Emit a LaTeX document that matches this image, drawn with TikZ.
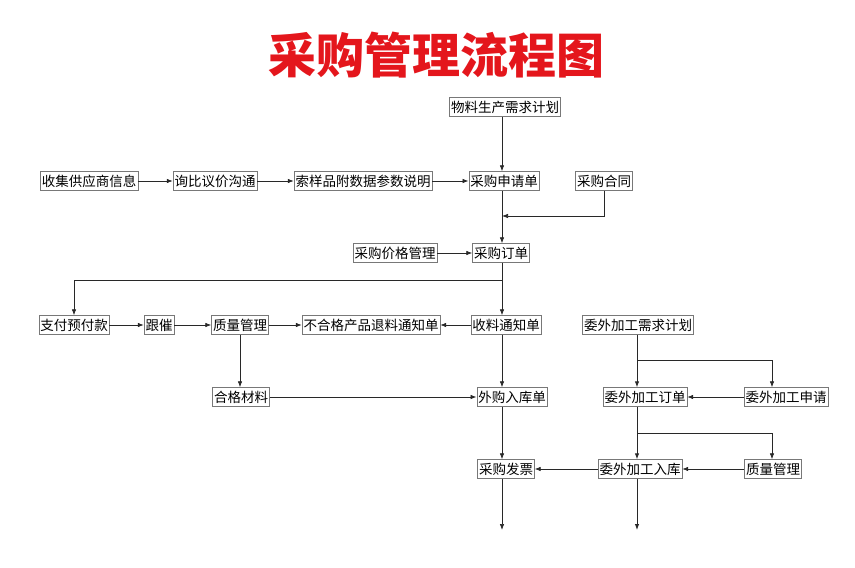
\documentclass[tikz,border=0pt]{standalone}
\usepackage{fontspec}
\setmainfont{Noto Sans CJK SC}
\usepackage{tikz}
\usetikzlibrary{positioning,arrows.meta}
\definecolor{colortitle}{RGB}{228,22,28}
\definecolor{colorline} {RGB}{40,40,40}
\definecolor{colorbox}  {RGB}{120,120,120}

\begin{document}
\begin{tikzpicture}[
    x=1pt, y=-1pt,
    font={\fontsize{13.5}{15}\selectfont},
    title/.style={text=colortitle,font={\fontsize{48}{52}\selectfont\bfseries}},
    task/.style={draw=colorbox,line width=0.4pt,fill=white,inner xsep=1.5pt,inner ysep=1pt,minimum height=19pt},
    flow/.style={-{Latex[length=6pt,width=4.5pt]},draw=colorline,line width=0.7pt},
]
    \useasboundingbox (0,0) rectangle (855,568);

    % Title
    \node[title] (heading) at (436,55) {采购管理流程图};

    % Tasks
    \node[task] (plan)      at (505,107) {物料生产需求计划};
    \node[task] (info)      at (89,181)  {收集供应商信息};
    \node[task] (inquiry)   at (215,181) {询比议价沟通};
    \node[task] (sample)    at (363,181) {索样品附数据参数说明};
    \node[task] (request)   at (504,181) {采购申请单};
    \node[task] (contract)  at (604,181) {采购合同};
    \node[task] (price)     at (395,253) {采购价格管理};
    \node[task] (order)     at (501,253) {采购订单};
    \node[task] (prepay)    at (74,325)  {支付预付款};
    \node[task] (follow)    at (159,325) {跟催};
    \node[task] (quality)   at (240,325) {质量管理};
    \node[task] (reject)    at (371,325) {不合格产品退料通知单};
    \node[task] (receipt)   at (506,325) {收料通知单};
    \node[task] (osplan)    at (638,325) {委外加工需求计划};
    \node[task] (qualified) at (241,397) {合格材料};
    \node[task] (instock)   at (512,397) {外购入库单};
    \node[task] (osorder)   at (645,397) {委外加工订单};
    \node[task] (osapply)   at (786,397) {委外加工申请};
    \node[task] (invoice)   at (506,469) {采购发票};
    \node[task] (osstock)   at (640,469) {委外加工入库};
    \node[task] (osquality) at (773,469) {质量管理};

    % Trunks, forks and free ends
    \coordinate (trunk)   at (502,0);
    \coordinate (ostrunk) at (637,0);
    \coordinate (merge)   at (502,216);
    \coordinate (split)   at (502,280);
    \coordinate (osfork1) at (637,360);
    \coordinate (osturn1) at (772,360);
    \coordinate (osfork2) at (637,433);
    \coordinate (osturn2) at (772,433);
    \coordinate (endA)    at (502,530);
    \coordinate (endB)    at (637,530);

    % Purchase flow
    \draw[flow] (info) -- (inquiry);
    \draw[flow] (inquiry) -- (sample);
    \draw[flow] (sample) -- (request);
    \draw[flow] (plan.south -| trunk) -- (request.north -| trunk);
    \draw[flow] (contract.south) |- (merge);
    \draw[flow] (request.south -| trunk) -- (order.north -| trunk);
    \draw[flow] (price) -- (order);
    \draw[flow] (order.south -| trunk) -- (receipt.north -| trunk);
    \draw[flow] (split) -| (prepay.north);

    \draw[flow] (prepay) -- (follow);
    \draw[flow] (follow) -- (quality);
    \draw[flow] (quality) -- (reject);
    \draw[flow] (receipt) -- (reject);
    \draw[flow] (quality.south) -- (quality.south |- qualified.north);
    \draw[flow] (qualified) -- (instock);
    \draw[flow] (receipt.south -| trunk) -- (instock.north -| trunk);
    \draw[flow] (instock.south -| trunk) -- (invoice.north -| trunk);
    \draw[flow] (invoice.south -| trunk) -- (endA);

    % Outsourcing flow
    \draw[flow,line width=0.9pt] (osplan.south -| ostrunk) -- (osorder.north -| ostrunk);
    \draw[flow] (osfork1) -- (osturn1) -- (osturn1 |- osapply.north);
    \draw[flow] (osapply) -- (osorder);
    \draw[flow,line width=0.9pt] (osorder.south -| ostrunk) -- (osstock.north -| ostrunk);
    \draw[flow] (osfork2) -- (osturn2) -- (osturn2 |- osquality.north);
    \draw[flow] (osquality) -- (osstock);
    \draw[flow] (osstock) -- (invoice);
    \draw[flow,line width=0.9pt] (osstock.south -| ostrunk) -- (endB);

\end{tikzpicture}
\end{document}
